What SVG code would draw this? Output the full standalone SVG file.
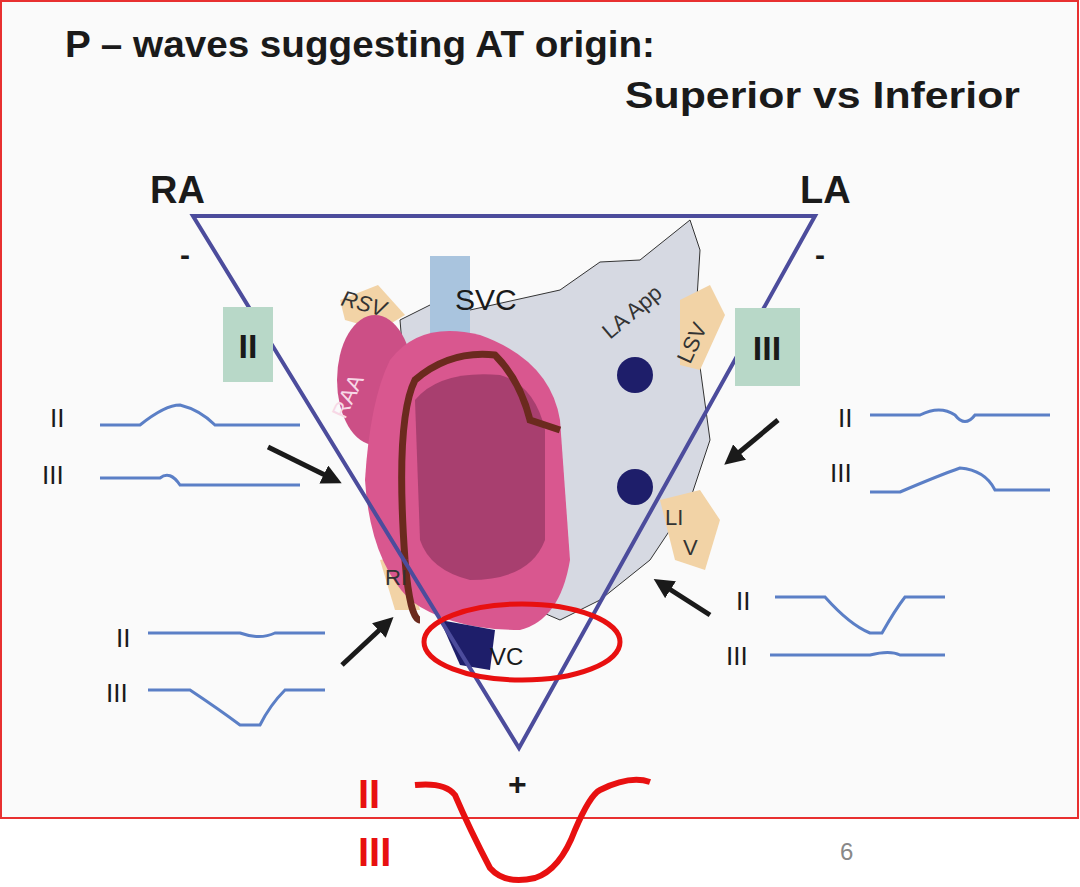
<svg xmlns="http://www.w3.org/2000/svg" width="1080" height="887" viewBox="0 0 1080 887">
<style>
.t{font-family:"Liberation Sans",Arial,sans-serif;fill:#1a1a1a}
.b{font-weight:bold}
.w{fill:none;stroke:#5b7fc6;stroke-width:3}
.lbl{font-family:"Liberation Sans",Arial,sans-serif;font-size:22px;fill:#333}
.ar{stroke:#1a1a1a;stroke-width:5;marker-end:url(#ah)}
.tan{fill:#f2d3a6}
</style>
<defs><marker id="ah" markerWidth="4" markerHeight="4" refX="2.5" refY="2" orient="auto"><path d="M0,0L4,2L0,4z" fill="#1a1a1a"/></marker></defs>
<rect x="0" y="0" width="1080" height="887" fill="#fff"/>
<rect x="1" y="1" width="1077" height="817" fill="#fafafa" stroke="#e83030" stroke-width="2"/>
<text class="t b" x="65" y="57" font-size="36" textLength="590" lengthAdjust="spacingAndGlyphs">P – waves suggesting AT origin:</text>
<text class="t b" x="625" y="108" font-size="36" textLength="395" lengthAdjust="spacingAndGlyphs">Superior vs Inferior</text>
<g id="heart">
<path d="M400,320 L440,300 L470,310 L560,290 L600,262 L640,260 L690,220 L700,250 L695,330 L710,440 L690,500 L650,560 L600,600 L560,620 L420,560 Z" fill="#d6d9e2" stroke="#333" stroke-width="1"/>
<rect x="430" y="256" width="40" height="110" fill="#a9c4de"/>
<path d="M340,300 L378,285 L405,315 L380,330 L345,320 Z" class="tan"/>
<path d="M680,300 L710,285 L725,315 L700,370 L680,365 Z" class="tan"/>
<path d="M660,500 L700,490 L720,520 L705,570 L675,560 Z" class="tan"/>
<path d="M380,560 L405,555 L420,610 L395,610 Z" class="tan"/>
<ellipse cx="375" cy="380" rx="38" ry="65" fill="#cc4f86"/>
<path d="M390,360 Q420,320 480,335 Q550,360 560,420 L570,560 Q560,620 520,630 Q450,630 410,600 Q370,560 365,480 Q370,400 390,360 Z" fill="#d9578f"/>
<path d="M415,400 Q440,370 500,375 Q535,385 545,430 L545,540 Q530,580 470,580 Q430,570 420,540 Z" fill="#a83f6f"/>
<path d="M405,560 Q395,420 415,380 Q450,350 495,355 Q520,380 530,420 L560,430" fill="none" stroke="#6b2a1e" stroke-width="7"/>
<path d="M405,560 Q410,620 420,620" fill="none" stroke="#6b2a1e" stroke-width="7"/>
<path d="M440,620 L495,630 L490,670 L460,665 Z" fill="#1e1e6a"/>
<circle cx="635" cy="375" r="18" fill="#1e1e6a"/>
<circle cx="635" cy="487" r="18" fill="#1e1e6a"/>
<text class="lbl" x="340" y="305" transform="rotate(15 340 305)" font-style="italic">RSV</text>
<text class="t" x="455" y="310" font-size="30">SVC</text>
<text class="lbl" x="610" y="340" transform="rotate(-40 610 340)">LA App</text>
<text class="lbl" x="690" y="365" transform="rotate(-65 690 365)">LSV</text>
<text class="lbl" x="345" y="420" transform="rotate(-65 345 420)" style="fill:#f7d8e6">RAA</text>
<text class="lbl" x="665" y="525">LI</text>
<text class="lbl" x="683" y="555">V</text>
<text class="lbl" x="385" y="585">RI</text>
<text class="t" x="490" y="665" font-size="24">VC</text>
</g>
<g id="triangle"><path d="M193,216 L815,216 L519,748 Z" fill="none" stroke="#4c4c9c" stroke-width="4"/></g>
<text class="t b" x="150" y="203" font-size="38">RA</text>
<text class="t b" x="800" y="203" font-size="38">LA</text>
<text class="t b" x="180" y="265" font-size="30">-</text>
<text class="t b" x="815" y="265" font-size="30">-</text>
<text class="t b" x="508" y="795" font-size="32">+</text>
<g id="boxII"><rect x="223" y="307" width="50" height="75" fill="#b8d8c8"/><text class="t b" x="248" y="358" font-size="34" text-anchor="middle">II</text></g>
<g id="boxIII"><rect x="735" y="308" width="65" height="78" fill="#b8d8c8"/><text class="t b" x="767" y="360" font-size="34" text-anchor="middle">III</text></g>
<g id="leads" class="t" font-size="26">
<text x="50" y="427">II</text><text x="42" y="484">III</text>
<text x="838" y="427">II</text><text x="830" y="482">III</text>
<text x="116" y="647">II</text><text x="106" y="702">III</text>
<text x="736" y="610">II</text><text x="726" y="665">III</text>
</g>
<g id="waves">
<path class="w" d="M100,425 H140 Q165,405 180,405 Q200,410 215,425 H300"/>
<path class="w" d="M100,478 H160 Q170,470 180,485 H300"/>
<path class="w" d="M870,415 H920 Q940,405 955,415 Q965,428 975,415 H1050"/>
<path class="w" d="M870,492 H900 Q940,475 960,468 Q985,470 995,490 H1050"/>
<path class="w" d="M148,633 H240 Q260,640 275,633 H325"/>
<path class="w" d="M148,690 H190 Q220,710 240,725 H260 Q270,705 285,690 H325"/>
<path class="w" d="M775,597 H825 Q850,625 870,633 H882 Q895,610 905,597 H945"/>
<path class="w" d="M770,655 H870 Q890,650 900,655 H945"/>
</g>
<g id="connectors">
<line class="ar" x1="268" y1="447" x2="335" y2="480"/>
<line class="ar" x1="778" y1="420" x2="730" y2="460"/>
<line class="ar" x1="342" y1="665" x2="388" y2="622"/>
<line class="ar" x1="710" y1="615" x2="660" y2="583"/>
</g>
<ellipse cx="522" cy="642" rx="98" ry="38" fill="none" stroke="#e81010" stroke-width="5"/>
<text x="358" y="808" font-family="Liberation Sans,Arial,sans-serif" font-weight="bold" font-size="40" fill="#e81010">II</text>
<text x="358" y="866" font-family="Liberation Sans,Arial,sans-serif" font-weight="bold" font-size="40" fill="#e81010">III</text>
<path d="M415,785 Q445,782 455,795 Q470,830 490,868 Q505,885 535,878 Q560,870 575,830 Q590,795 600,790 Q630,775 650,782" fill="none" stroke="#e81010" stroke-width="6"/>
<text x="840" y="860" font-family="Liberation Sans,Arial,sans-serif" font-size="24" fill="#888">6</text>
</svg>
